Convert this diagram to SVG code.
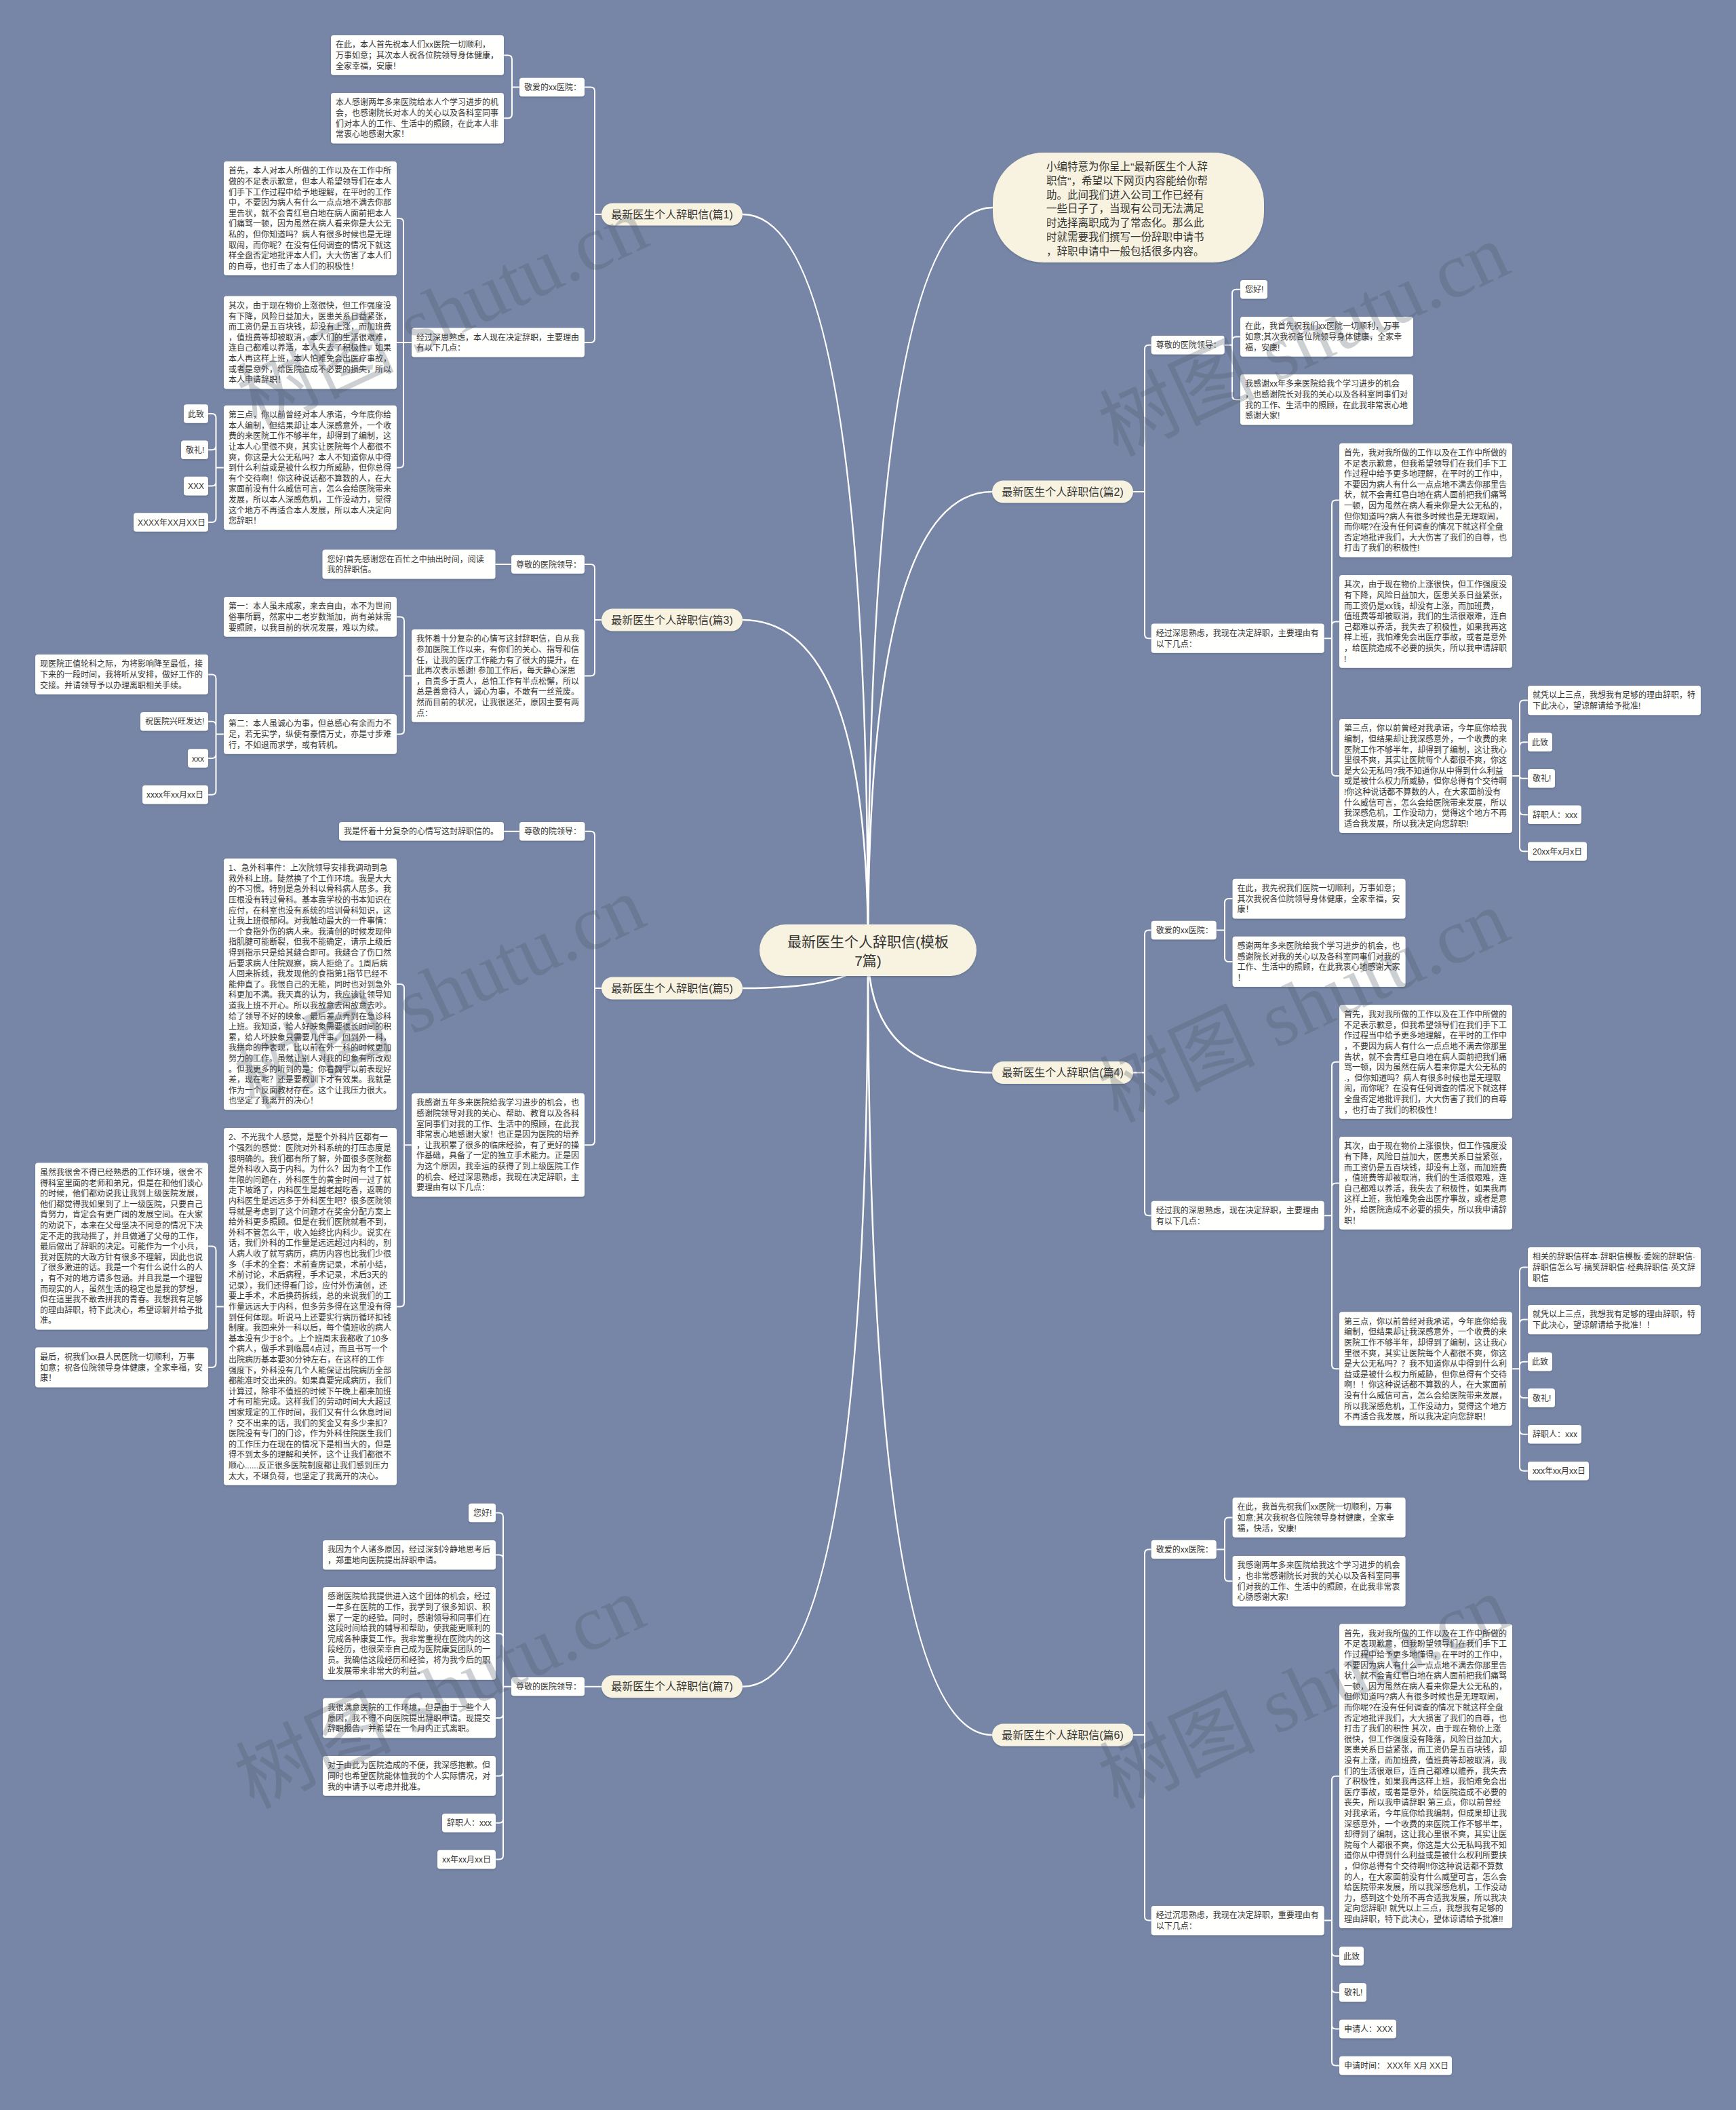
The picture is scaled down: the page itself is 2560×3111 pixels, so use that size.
<svg xmlns="http://www.w3.org/2000/svg" width="2560" height="3111" viewBox="0 0 2560 3111">
<defs>
<filter id="sh" x="-5%" y="-10%" width="110%" height="130%"><feDropShadow dx="0" dy="1.5" stdDeviation="1" flood-color="#3c4660" flood-opacity="0.35"/></filter>
<style>
.n rect{fill:#FFFFFD;rx:4px;ry:4px;filter:url(#sh)}
.n text,.b text,.r text{font-family:"Liberation Sans","Noto Sans CJK SC",sans-serif;fill:#333}
.n text{font-size:12px}
.b rect{fill:#F8F3E0;filter:url(#sh)}
.b text{font-size:16px;text-anchor:middle}
.r rect{fill:#F8F3E0;filter:url(#sh)}
#connectors path{fill:none;stroke:#FFFFFF;stroke-width:2}
#connectors .main{stroke-width:2.5}
#watermarks text{font-family:"Liberation Serif","Noto Sans CJK SC",serif;font-size:115px;fill:#50586a;opacity:0.28;text-anchor:middle}
</style>
</defs>
<rect x="0" y="0" width="2560" height="3111" fill="#7786A6"/>

<g id="connectors">
<path class="main" d="M1280,1401Q1280,306 1464,306"/>
<path class="main" d="M1280,1401Q1280,316 1095,316"/>
<path class="main" d="M1280,1401Q1280,914 1095,914"/>
<path class="main" d="M1280,1401Q1280,1457 1095,1457"/>
<path class="main" d="M1280,1401Q1280,2486.8 1095,2486.8"/>
<path class="main" d="M1280,1401Q1280,725 1463,725"/>
<path class="main" d="M1280,1401Q1280,1581.5 1463,1581.5"/>
<path class="main" d="M1280,1401Q1280,2558 1463,2558"/>
<path d="M887,316H877V134.5Q877,128.5 871,128.5H862M877,316V499Q877,505 871,505H862"/>
<path d="M766,128.5H755V87.4Q755,81.4 749,81.4H743M755,128.5V168.2Q755,174.2 749,174.2H743"/>
<path d="M607,505H595V328Q595,322 589,322H585M595,505H585M595,505V683.5Q595,689.5 589,689.5H585"/>
<path d="M330,689.5H318.5V616Q318.5,610 312.5,610H307M318.5,689.5V657.3Q318.5,663.3 312.5,663.3H307M318.5,689.5V710.6Q318.5,716.6 312.5,716.6H307M318.5,689.5V764Q318.5,770 312.5,770H307"/>
<path d="M887,914H877V838Q877,832 871,832H862M877,914V990.4Q877,996.4 871,996.4H862"/>
<path d="M754,832H730.5"/>
<path d="M607,996.4H596V915.4Q596,909.4 590,909.4H585M596,996.4V1076.4Q596,1082.4 590,1082.4H585"/>
<path d="M330,1082.4H318.5V1000.4Q318.5,994.4 312.5,994.4H307M318.5,1082.4V1069.8Q318.5,1063.8 312.5,1063.8H307M318.5,1082.4V1112Q318.5,1118 312.5,1118H307M318.5,1082.4V1165.8Q318.5,1171.8 312.5,1171.8H307"/>
<path d="M887,1457H877V1231.8Q877,1225.8 871,1225.8H862.5M877,1457V1682.2Q877,1688.2 871,1688.2H862"/>
<path d="M766,1225.8H743"/>
<path d="M607,1688.2H596V1457.1Q596,1451.1 590,1451.1H585M596,1688.2V1920.4Q596,1926.4 590,1926.4H585"/>
<path d="M330,1926.4H318.5V1843.6Q318.5,1837.6 312.5,1837.6H307M318.5,1926.4V2010Q318.5,2016 312.5,2016H307"/>
<path d="M887,2486.8H862"/>
<path d="M754,2486.8H742V2236.5Q742,2230.5 736,2230.5H731M742,2486.8V2298.6Q742,2292.6 736,2292.6H731M742,2486.8V2414.4Q742,2408.4 736,2408.4H731M742,2486.8V2527.1Q742,2533.1 736,2533.1H731M742,2486.8V2612.4Q742,2618.4 736,2618.4H731M742,2486.8V2681.8Q742,2687.8 736,2687.8H731M742,2486.8V2735.6Q742,2741.6 736,2741.6H731"/>
<path d="M1671,725H1688V514.8Q1688,508.8 1694,508.8H1697.7M1688,725V935.2Q1688,941.2 1694,941.2H1697.7"/>
<path d="M1805.7,508.8H1817V432.8Q1817,426.8 1823,426.8H1829M1817,508.8V502.4Q1817,496.4 1823,496.4H1829M1817,508.8V583.2Q1817,589.2 1823,589.2H1829"/>
<path d="M1952.7,941.2H1964V743.5Q1964,737.5 1970,737.5H1975M1964,941.2V922.4Q1964,916.4 1970,916.4H1975M1964,941.2V1138Q1964,1144 1970,1144H1975"/>
<path d="M2230,1144H2241V1038.6Q2241,1032.6 2247,1032.6H2253M2241,1144V1100.3Q2241,1094.3 2247,1094.3H2253M2241,1144Q2241,1147.8 2244.8,1147.8H2253M2241,1144V1195.3Q2241,1201.3 2247,1201.3H2253M2241,1144V1249.3Q2241,1255.3 2247,1255.3H2253"/>
<path d="M1671,1581.5H1688V1377.5Q1688,1371.5 1694,1371.5H1697.7M1688,1581.5V1786.3Q1688,1792.3 1694,1792.3H1697.7"/>
<path d="M1793.7,1371.5H1806V1331.1Q1806,1325.1 1812,1325.1H1817.6M1806,1371.5V1411.9Q1806,1417.9 1812,1417.9H1817.6"/>
<path d="M1952.7,1792.3H1964V1571.7Q1964,1565.7 1970,1565.7H1975M1964,1792.3V1750.4Q1964,1744.4 1970,1744.4H1975M1964,1792.3V2012.3Q1964,2018.3 1970,2018.3H1975"/>
<path d="M2230,2018.3H2241V1874.4Q2241,1868.4 2247,1868.4H2253M2241,2018.3V1951.6Q2241,1945.6 2247,1945.6H2253M2241,2018.3V2013.8Q2241,2007.8 2247,2007.8H2253M2241,2018.3V2055.1Q2241,2061.1 2247,2061.1H2253M2241,2018.3V2108.8Q2241,2114.8 2247,2114.8H2253M2241,2018.3V2162.8Q2241,2168.8 2247,2168.8H2253"/>
<path d="M1671,2558H1688V2290.5Q1688,2284.5 1694,2284.5H1697.7M1688,2558V2825.6Q1688,2831.6 1694,2831.6H1697.7"/>
<path d="M1793.7,2284.5H1806V2243.4Q1806,2237.4 1812,2237.4H1817.6M1806,2284.5V2325.2Q1806,2331.2 1812,2331.2H1817.6"/>
<path d="M1952.7,2831.6H1964V2624.7Q1964,2618.7 1970,2618.7H1975M1964,2831.6V2878.1Q1964,2884.1 1970,2884.1H1975M1964,2831.6V2931.8Q1964,2937.8 1970,2937.8H1975M1964,2831.6V2985.5Q1964,2991.5 1970,2991.5H1975M1964,2831.6V3039.5Q1964,3045.5 1970,3045.5H1975"/>
</g>

<g id="root" class="r"><rect x="1120" y="1363" width="320" height="76" rx="38"/><text x="1280" y="1396.3" font-size="21" text-anchor="middle"><tspan x="1280">最新医生个人辞职信(模板</tspan><tspan x="1280" dy="27.7">7篇)</tspan></text></g>

<g id="intro" class="r"><rect x="1464" y="225" width="400" height="162" rx="75"/><text x="1543" y="250.9" font-size="15.5"><tspan x="1543">小编特意为你呈上"最新医生个人辞</tspan><tspan x="1543" dy="20.8">职信"，希望以下网页内容能给你帮</tspan><tspan x="1543" dy="20.8">助。此间我们进入公司工作已经有</tspan><tspan x="1543" dy="20.8">一些日子了，当现有公司无法满足</tspan><tspan x="1543" dy="20.8">时选择离职成为了常态化。那么此</tspan><tspan x="1543" dy="20.8">时就需要我们撰写一份辞职申请书</tspan><tspan x="1543" dy="20.8">，辞职申请中一般包括很多内容。</tspan></text></g>

<g id="b1" class="b"><rect x="887" y="299.5" width="208" height="33" rx="16.5"/><text x="991" y="321.6">最新医生个人辞职信(篇1)</text></g>
<g id="b3" class="b"><rect x="887" y="897.5" width="208" height="33" rx="16.5"/><text x="991" y="919.6">最新医生个人辞职信(篇3)</text></g>
<g id="b5" class="b"><rect x="887" y="1440.5" width="208" height="33" rx="16.5"/><text x="991" y="1462.6">最新医生个人辞职信(篇5)</text></g>
<g id="b7" class="b"><rect x="887" y="2470.3" width="208" height="33" rx="16.5"/><text x="991" y="2492.4">最新医生个人辞职信(篇7)</text></g>
<g id="b2" class="b"><rect x="1463" y="708.5" width="208" height="33" rx="16.5"/><text x="1567" y="730.6">最新医生个人辞职信(篇2)</text></g>
<g id="b4" class="b"><rect x="1463" y="1565" width="208" height="33" rx="16.5"/><text x="1567" y="1587.1">最新医生个人辞职信(篇4)</text></g>
<g id="b6" class="b"><rect x="1463" y="2541.5" width="208" height="33" rx="16.5"/><text x="1567" y="2563.6">最新医生个人辞职信(篇6)</text></g>

<g id="n1lbl" class="n"><rect x="766" y="114.7" width="96" height="27.6"/><text x="773" y="133.1">敬爱的xx医院：</text></g>
<g id="n1a" class="n"><rect x="488" y="52" width="255" height="58.8"/><text x="495" y="70.4"><tspan x="495">在此，本人首先祝本人们xx医院一切顺利，</tspan><tspan x="495" dy="15.6">万事如意；其次本人祝各位院领导身体健康，</tspan><tspan x="495" dy="15.6">全家幸福，安康！</tspan></text></g>
<g id="n1b" class="n"><rect x="488" y="137" width="255" height="74.4"/><text x="495" y="155.4"><tspan x="495">本人感谢两年多来医院给本人个学习进步的机</tspan><tspan x="495" dy="15.6">会，也感谢院长对本人的关心以及各科室同事</tspan><tspan x="495" dy="15.6">们对本人的工作、生活中的照顾，在此本人非</tspan><tspan x="495" dy="15.6">常衷心地感谢大家！</tspan></text></g>
<g id="n1why" class="n"><rect x="607" y="483.4" width="255" height="43.2"/><text x="614" y="501.8"><tspan x="614">经过深思熟虑，本人现在决定辞职，主要理由</tspan><tspan x="614" dy="15.6">有以下几点：</tspan></text></g>
<g id="n1c1" class="n"><rect x="330" y="238" width="255" height="168"/><text x="337" y="256.4"><tspan x="337">首先，本人对本人所做的工作以及在工作中所</tspan><tspan x="337" dy="15.6">做的不足表示歉意，但本人希望领导们在本人</tspan><tspan x="337" dy="15.6">们手下工作过程中给予地理解，在平时的工作</tspan><tspan x="337" dy="15.6">中，不要因为病人有什么一点点地不满去你那</tspan><tspan x="337" dy="15.6">里告状，就不会青红皂白地在病人面前把本人</tspan><tspan x="337" dy="15.6">们痛骂一顿，因为虽然在病人看来你是大公无</tspan><tspan x="337" dy="15.6">私的，但你知道吗？病人有很多时候也是无理</tspan><tspan x="337" dy="15.6">取闹，而你呢？在没有任何调查的情况下就这</tspan><tspan x="337" dy="15.6">样全盘否定地批评本人们，大大伤害了本人们</tspan><tspan x="337" dy="15.6">的自尊，也打击了本人们的积极性！</tspan></text></g>
<g id="n1c2" class="n"><rect x="330" y="436.6" width="255" height="136.8"/><text x="337" y="455"><tspan x="337">其次，由于现在物价上涨很快，但工作强度没</tspan><tspan x="337" dy="15.6">有下降，风险日益加大，医患关系日益紧张，</tspan><tspan x="337" dy="15.6">而工资仍是五百块钱，却没有上涨，而加班费</tspan><tspan x="337" dy="15.6">，值班费等却被取消，本人们的生活很艰难，</tspan><tspan x="337" dy="15.6">连自己都难以养活，本人失去了积极性，如果</tspan><tspan x="337" dy="15.6">本人再这样上班，本人怕难免会出医疗事故，</tspan><tspan x="337" dy="15.6">或者是意外，给医院造成不必要的损失，所以</tspan><tspan x="337" dy="15.6">本人申请辞职！</tspan></text></g>
<g id="n1c3" class="n"><rect x="330" y="597.7" width="255" height="183.6"/><text x="337" y="616.1"><tspan x="337">第三点，你以前曾经对本人承诺，今年底你给</tspan><tspan x="337" dy="15.6">本人编制，但结果却让本人深感意外，一个收</tspan><tspan x="337" dy="15.6">费的来医院工作不够半年，却得到了编制，这</tspan><tspan x="337" dy="15.6">让本人心里很不爽，其实让医院每个人都很不</tspan><tspan x="337" dy="15.6">爽，你这是大公无私吗？本人不知道你从中得</tspan><tspan x="337" dy="15.6">到什么利益或是被什么权力所威胁，但你总得</tspan><tspan x="337" dy="15.6">有个交待啊！你这种说话都不算数的人，在大</tspan><tspan x="337" dy="15.6">家面前没有什么威信可言，怎么会给医院带来</tspan><tspan x="337" dy="15.6">发展，所以本人深感危机，工作没动力，觉得</tspan><tspan x="337" dy="15.6">这个地方不再适合本人发展，所以本人决定向</tspan><tspan x="337" dy="15.6">您辞职！</tspan></text></g>
<g id="n1d1" class="n"><rect x="271" y="596.2" width="36" height="27.6"/><text x="277" y="614.6">此致</text></g>
<g id="n1d2" class="n"><rect x="267" y="649.5" width="40" height="27.6"/><text x="274" y="667.9">敬礼!</text></g>
<g id="n1d3" class="n"><rect x="271" y="702.8" width="36" height="27.6"/><text x="277" y="721.2">XXX</text></g>
<g id="n1d4" class="n"><rect x="197" y="756.2" width="110" height="27.6"/><text x="203" y="774.6">XXXX年XX月XX日</text></g>

<g id="n3lbl" class="n"><rect x="754" y="818.2" width="108" height="27.6"/><text x="761" y="836.6">尊敬的医院领导：</text></g>
<g id="n3a" class="n"><rect x="475.5" y="810.4" width="255" height="43.2"/><text x="482.5" y="828.8"><tspan x="482.5">您好!首先感谢您在百忙之中抽出时间，阅读</tspan><tspan x="482.5" dy="15.6">我的辞职信。</tspan></text></g>
<g id="n3why" class="n"><rect x="607" y="928" width="255" height="136.8"/><text x="614" y="946.4"><tspan x="614">我怀着十分复杂的心情写这封辞职信，自从我</tspan><tspan x="614" dy="15.6">参加医院工作以来，有你们的关心、指导和信</tspan><tspan x="614" dy="15.6">任，让我的医疗工作能力有了很大的提升，在</tspan><tspan x="614" dy="15.6">此再次表示感谢! 参加工作后，每天静心深思</tspan><tspan x="614" dy="15.6">，自责多于责人，总怕工作有半点松懈，所以</tspan><tspan x="614" dy="15.6">总是善意待人，诚心为事，不敢有一丝荒废。</tspan><tspan x="614" dy="15.6">然而目前的状况，让我很迷茫，原因主要有两</tspan><tspan x="614" dy="15.6">点：</tspan></text></g>
<g id="n3c1" class="n"><rect x="330" y="880" width="255" height="58.8"/><text x="337" y="898.4"><tspan x="337">第一：本人虽未成家，来去自由，本不为世间</tspan><tspan x="337" dy="15.6">俗事所羁，然家中二老岁数渐加，尚有弟妹需</tspan><tspan x="337" dy="15.6">要照顾，以我目前的状况发展，难以为续。</tspan></text></g>
<g id="n3c2" class="n"><rect x="330" y="1053" width="255" height="58.8"/><text x="337" y="1071.4"><tspan x="337">第二：本人虽诚心为事，但总感心有余而力不</tspan><tspan x="337" dy="15.6">足，若无实学，纵使有豪情万丈，亦是寸步难</tspan><tspan x="337" dy="15.6">行，不如退而求学，或有转机。</tspan></text></g>
<g id="n3d1" class="n"><rect x="52" y="965" width="255" height="58.8"/><text x="59" y="983.4"><tspan x="59">现医院正值轮科之际，为将影响降至最低，接</tspan><tspan x="59" dy="15.6">下来的一段时间，我将听从安排，做好工作的</tspan><tspan x="59" dy="15.6">交接。并请领导予以办理离职相关手续。</tspan></text></g>
<g id="n3d2" class="n"><rect x="207" y="1050" width="100" height="27.6"/><text x="214" y="1068.4">祝医院兴旺发达!</text></g>
<g id="n3d3" class="n"><rect x="277" y="1104.2" width="30" height="27.6"/><text x="283" y="1122.6">xxx</text></g>
<g id="n3d4" class="n"><rect x="210" y="1158" width="97" height="27.6"/><text x="216" y="1176.4">xxxx年xx月xx日</text></g>

<g id="n5lbl" class="n"><rect x="766" y="1212" width="96.5" height="27.6"/><text x="773" y="1230.4">尊敬的院领导：</text></g>
<g id="n5a" class="n"><rect x="500" y="1212" width="243" height="27.6"/><text x="507" y="1230.4">我是怀着十分复杂的心情写这封辞职信的。</text></g>
<g id="n5why" class="n"><rect x="607" y="1612" width="255" height="152.4"/><text x="614" y="1630.4"><tspan x="614">我感谢五年多来医院给我学习进步的机会，也</tspan><tspan x="614" dy="15.6">感谢院领导对我的关心、帮助、教育以及各科</tspan><tspan x="614" dy="15.6">室同事们对我的工作、生活中的照顾，在此我</tspan><tspan x="614" dy="15.6">非常衷心地感谢大家！也正是因为医院的培养</tspan><tspan x="614" dy="15.6">，让我积累了很多的临床经验，有了更好的操</tspan><tspan x="614" dy="15.6">作基础，具备了一定的独立手术能力。正是因</tspan><tspan x="614" dy="15.6">为这个原因，我幸运的获得了到上级医院工作</tspan><tspan x="614" dy="15.6">的机会、经过深思熟虑，我现在决定辞职，主</tspan><tspan x="614" dy="15.6">要理由有以下几点：</tspan></text></g>
<g id="n5c1" class="n"><rect x="330" y="1265.7" width="255" height="370.8"/><text x="337" y="1284.1"><tspan x="337">1、急外科事件：上次院领导安排我调动到急</tspan><tspan x="337" dy="15.6">救外科上班。陡然换了个工作环境。我是大大</tspan><tspan x="337" dy="15.6">的不习惯。特别是急外科以骨科病人居多。我</tspan><tspan x="337" dy="15.6">压根没有转过骨科。基本靠学校的书本知识在</tspan><tspan x="337" dy="15.6">应付，在科室也没有系统的培训骨科知识，这</tspan><tspan x="337" dy="15.6">让我上班很郁闷。对我触动最大的一件事情：</tspan><tspan x="337" dy="15.6">一个食指外伤的病人来。我清创的时候发现伸</tspan><tspan x="337" dy="15.6">指肌腱可能断裂，但我不能确定，请示上级后</tspan><tspan x="337" dy="15.6">得到指示只是给其缝合即可。我缝合了伤口然</tspan><tspan x="337" dy="15.6">后要求病人住院观察，病人拒绝了。1周后病</tspan><tspan x="337" dy="15.6">人回来拆线，我发现他的食指第1指节已经不</tspan><tspan x="337" dy="15.6">能伸直了。我恨自己的无能，同时也对到急外</tspan><tspan x="337" dy="15.6">科更加不满。我天真的认为，我应该让领导知</tspan><tspan x="337" dy="15.6">道我上班不开心。所以我故意去闹故意去吵。</tspan><tspan x="337" dy="15.6">给了领导不好的映象、最后差点弄到在急诊科</tspan><tspan x="337" dy="15.6">上班。我知道，给人好映象需要很长时间的积</tspan><tspan x="337" dy="15.6">累，给人坏映象只需要几件事。回到外一科，</tspan><tspan x="337" dy="15.6">我拼命的挣表现，比以前在外一科的时候更加</tspan><tspan x="337" dy="15.6">努力的工作。虽然让别人对我的印象有所改观</tspan><tspan x="337" dy="15.6">。但我更多的听到的是：你看魏宇以前表现好</tspan><tspan x="337" dy="15.6">差，现在呢？还是要教训下才有效果。我就是</tspan><tspan x="337" dy="15.6">作为一个反面教材存在。这个让我压力很大。</tspan><tspan x="337" dy="15.6">也坚定了我离开的决心！</tspan></text></g>
<g id="n5c2" class="n"><rect x="330" y="1663" width="255" height="526.8"/><text x="337" y="1681.4"><tspan x="337">2、不光我个人感觉，是整个外科片区都有一</tspan><tspan x="337" dy="15.6">个强烈的感觉：医院对外科系统的打压态度是</tspan><tspan x="337" dy="15.6">很明确的。我们都有所了解，外面很多医院都</tspan><tspan x="337" dy="15.6">是外科收入高于内科。为什么？因为有个工作</tspan><tspan x="337" dy="15.6">年限的问题在，外科医生的黄金时间一过了就</tspan><tspan x="337" dy="15.6">走下坡路了，内科医生是越老越吃香，返聘的</tspan><tspan x="337" dy="15.6">内科医生是远远多于外科医生吧？很多医院领</tspan><tspan x="337" dy="15.6">导就是考虑到了这个问题才在奖金分配方案上</tspan><tspan x="337" dy="15.6">给外科更多照顾。但是在我们医院就看不到，</tspan><tspan x="337" dy="15.6">外科不管怎么干，收入始终比内科少。说实在</tspan><tspan x="337" dy="15.6">话，我们外科的工作量是远远超过内科的，别</tspan><tspan x="337" dy="15.6">人病人收了就写病历，病历内容也比我们少很</tspan><tspan x="337" dy="15.6">多（手术的全套：术前查房记录，术前小结，</tspan><tspan x="337" dy="15.6">术前讨论，术后病程，手术记录，术后3天的</tspan><tspan x="337" dy="15.6">记录），我们还得看门诊，应付外伤清创，还</tspan><tspan x="337" dy="15.6">要上手术，术后换药拆线，总的来说我们的工</tspan><tspan x="337" dy="15.6">作量远远大于内科，但多劳多得在这里没有得</tspan><tspan x="337" dy="15.6">到任何体现。听说马上还要实行病历循环扣钱</tspan><tspan x="337" dy="15.6">制度。我回来外一科以后，每个值班收的病人</tspan><tspan x="337" dy="15.6">基本没有少于8个。上个班周末我都收了10多</tspan><tspan x="337" dy="15.6">个病人，做手术到临晨4点过，而且书写一个</tspan><tspan x="337" dy="15.6">出院病历基本要30分钟左右，在这样的工作</tspan><tspan x="337" dy="15.6">强度下，外科没有几个人能保证出院病历全部</tspan><tspan x="337" dy="15.6">都能准时交出来的。如果真要完成病历，我们</tspan><tspan x="337" dy="15.6">计算过，除非不值班的时候下午晚上都来加班</tspan><tspan x="337" dy="15.6">才有可能完成。这样我们的劳动时间大大超过</tspan><tspan x="337" dy="15.6">国家规定的工作时间，我们又有什么休息时间</tspan><tspan x="337" dy="15.6">？交不出来的话，我们的奖金又有多少来扣？</tspan><tspan x="337" dy="15.6">医院没有专门的门诊，作为外科住院医生我们</tspan><tspan x="337" dy="15.6">的工作压力在现在的情况下是相当大的，但是</tspan><tspan x="337" dy="15.6">得不到太多的理解和关怀，这个让我们都很不</tspan><tspan x="337" dy="15.6">顺心......反正很多医院制度都让我们感到压力</tspan><tspan x="337" dy="15.6">太大，不堪负荷，也坚定了我离开的决心。</tspan></text></g>
<g id="n5d1" class="n"><rect x="52" y="1714.6" width="255" height="246"/><text x="59" y="1733"><tspan x="59">虽然我很舍不得已经熟悉的工作环境，很舍不</tspan><tspan x="59" dy="15.6">得科室里面的老师和弟兄，但是在和他们谈心</tspan><tspan x="59" dy="15.6">的时候，他们都劝说我让我到上级医院发展，</tspan><tspan x="59" dy="15.6">他们都觉得我如果到了上一级医院，只要自己</tspan><tspan x="59" dy="15.6">肯努力，肯定会有更广阔的发展空间。在大家</tspan><tspan x="59" dy="15.6">的劝说下，本来在父母坚决不同意的情况下决</tspan><tspan x="59" dy="15.6">定不走的我动摇了，并且做通了父母的工作，</tspan><tspan x="59" dy="15.6">最后做出了辞职的决定。可能作为一个小兵，</tspan><tspan x="59" dy="15.6">我对医院的大政方针有很多不理解，因此也说</tspan><tspan x="59" dy="15.6">了很多激进的话。我是一个有什么说什么的人</tspan><tspan x="59" dy="15.6">，有不对的地方请多包涵。并且我是一个理智</tspan><tspan x="59" dy="15.6">而现实的人，虽然生活的稳定也是我的梦想，</tspan><tspan x="59" dy="15.6">但在這里我不敢去拼我的青春。我想我有足够</tspan><tspan x="59" dy="15.6">的理由辞职，特下此决心，希望谅解并给予批</tspan><tspan x="59" dy="15.6">准。</tspan></text></g>
<g id="n5d2" class="n"><rect x="52" y="1986.6" width="255" height="58.8"/><text x="59" y="2005"><tspan x="59">最后，祝我们xx县人民医院一切顺利，万事</tspan><tspan x="59" dy="15.6">如意；祝各位院领导身体健康，全家幸福，安</tspan><tspan x="59" dy="15.6">康！</tspan></text></g>

<g id="n7lbl" class="n"><rect x="754" y="2473" width="108" height="27.6"/><text x="761" y="2491.4">尊敬的医院领导：</text></g>
<g id="n7c1" class="n"><rect x="691" y="2216.7" width="40" height="27.6"/><text x="698" y="2235.1">您好!</text></g>
<g id="n7c2" class="n"><rect x="476" y="2271" width="255" height="43.2"/><text x="483" y="2289.4"><tspan x="483">我因为个人诸多原因，经过深刻冷静地思考后</tspan><tspan x="483" dy="15.6">，郑重地向医院提出辞职申请。</tspan></text></g>
<g id="n7c3" class="n"><rect x="476" y="2340" width="255" height="136.8"/><text x="483" y="2358.4"><tspan x="483">感谢医院给我提供进入这个团体的机会，经过</tspan><tspan x="483" dy="15.6">一年多在医院的工作，我学到了很多知识、积</tspan><tspan x="483" dy="15.6">累了一定的经验。同时，感谢领导和同事们在</tspan><tspan x="483" dy="15.6">这段时间给我的辅导和帮助，使我能更顺利的</tspan><tspan x="483" dy="15.6">完成各种康复工作。我非常重视在医院内的这</tspan><tspan x="483" dy="15.6">段经历，也很荣幸自己成为医院康复团队的一</tspan><tspan x="483" dy="15.6">员。我确信这段经历和经验，将为我今后的职</tspan><tspan x="483" dy="15.6">业发展带来非常大的利益。</tspan></text></g>
<g id="n7c4" class="n"><rect x="476" y="2503.7" width="255" height="58.8"/><text x="483" y="2522.1"><tspan x="483">我很满意医院的工作环境，但是由于一些个人</tspan><tspan x="483" dy="15.6">原因，我不得不向医院提出辞职申请。现提交</tspan><tspan x="483" dy="15.6">辞职报告，并希望在一个月内正式离职。</tspan></text></g>
<g id="n7c5" class="n"><rect x="476" y="2589" width="255" height="58.8"/><text x="483" y="2607.4"><tspan x="483">对于由此为医院造成的不便，我深感抱歉。但</tspan><tspan x="483" dy="15.6">同时也希望医院能体恤我的个人实际情况，对</tspan><tspan x="483" dy="15.6">我的申请予以考虑并批准。</tspan></text></g>
<g id="n7c6" class="n"><rect x="652" y="2674" width="79" height="27.6"/><text x="659" y="2692.4">辞职人：xxx</text></g>
<g id="n7c7" class="n"><rect x="645" y="2727.8" width="86" height="27.6"/><text x="652" y="2746.2">xx年xx月xx日</text></g>

<g id="n2lbl" class="n"><rect x="1697.7" y="495" width="108" height="27.6"/><text x="1704.7" y="513.4">尊敬的医院领导：</text></g>
<g id="n2a" class="n"><rect x="1829" y="413" width="40" height="27.6"/><text x="1836" y="431.4">您好!</text></g>
<g id="n2b" class="n"><rect x="1829" y="467" width="255" height="58.8"/><text x="1836" y="485.4"><tspan x="1836">在此，我首先祝我们xx医院一切顺利，万事</tspan><tspan x="1836" dy="15.6">如意;其次我祝各位院领导身体健康，全家幸</tspan><tspan x="1836" dy="15.6">福，安康!</tspan></text></g>
<g id="n2c" class="n"><rect x="1829" y="552" width="255" height="74.4"/><text x="1836" y="570.4"><tspan x="1836">我感谢xx年多来医院给我个学习进步的机会</tspan><tspan x="1836" dy="15.6">，也感谢院长对我的关心以及各科室同事们对</tspan><tspan x="1836" dy="15.6">我的工作、生活中的照顾，在此我非常衷心地</tspan><tspan x="1836" dy="15.6">感谢大家!</tspan></text></g>
<g id="n2why" class="n"><rect x="1697.7" y="919.6" width="255" height="43.2"/><text x="1704.7" y="938"><tspan x="1704.7">经过深思熟虑，我现在决定辞职，主要理由有</tspan><tspan x="1704.7" dy="15.6">以下几点：</tspan></text></g>
<g id="n2c1" class="n"><rect x="1975" y="653.5" width="255" height="168"/><text x="1982" y="671.9"><tspan x="1982">首先，我对我所做的工作以及在工作中所做的</tspan><tspan x="1982" dy="15.6">不足表示歉意，但我希望领导们在我们手下工</tspan><tspan x="1982" dy="15.6">作过程中给予更多地理解，在平时的工作中，</tspan><tspan x="1982" dy="15.6">不要因为病人有什么一点点地不满去你那里告</tspan><tspan x="1982" dy="15.6">状，就不会青红皂白地在病人面前把我们痛骂</tspan><tspan x="1982" dy="15.6">一顿，因为虽然在病人看来你是大公无私的，</tspan><tspan x="1982" dy="15.6">但你知道吗?病人有很多时候也是无理取闹，</tspan><tspan x="1982" dy="15.6">而你呢?在没有任何调查的情况下就这样全盘</tspan><tspan x="1982" dy="15.6">否定地批评我们，大大伤害了我们的自尊，也</tspan><tspan x="1982" dy="15.6">打击了我们的积极性!</tspan></text></g>
<g id="n2c2" class="n"><rect x="1975" y="848" width="255" height="136.8"/><text x="1982" y="866.4"><tspan x="1982">其次，由于现在物价上涨很快，但工作强度没</tspan><tspan x="1982" dy="15.6">有下降，风险日益加大，医患关系日益紧张，</tspan><tspan x="1982" dy="15.6">而工资仍是xx钱，却没有上涨，而加班费，</tspan><tspan x="1982" dy="15.6">值班费等却被取消，我们的生活很艰难，连自</tspan><tspan x="1982" dy="15.6">己都难以养活，我失去了积极性，如果我再这</tspan><tspan x="1982" dy="15.6">样上班，我怕难免会出医疗事故，或者是意外</tspan><tspan x="1982" dy="15.6">，给医院造成不必要的损失，所以我申请辞职</tspan><tspan x="1982" dy="15.6">!</tspan></text></g>
<g id="n2c3" class="n"><rect x="1975" y="1060" width="255" height="168"/><text x="1982" y="1078.4"><tspan x="1982">第三点，你以前曾经对我承诺，今年底你给我</tspan><tspan x="1982" dy="15.6">编制，但结果却让我深感意外，一个收费的来</tspan><tspan x="1982" dy="15.6">医院工作不够半年，却得到了编制，这让我心</tspan><tspan x="1982" dy="15.6">里很不爽，其实让医院每个人都很不爽，你这</tspan><tspan x="1982" dy="15.6">是大公无私吗?我不知道你从中得到什么利益</tspan><tspan x="1982" dy="15.6">或是被什么权力所威胁，但你总得有个交待啊</tspan><tspan x="1982" dy="15.6">!你这种说话都不算数的人，在大家面前没有</tspan><tspan x="1982" dy="15.6">什么威信可言，怎么会给医院带来发展，所以</tspan><tspan x="1982" dy="15.6">我深感危机，工作没动力，觉得这个地方不再</tspan><tspan x="1982" dy="15.6">适合我发展，所以我决定向您辞职!</tspan></text></g>
<g id="n2d1" class="n"><rect x="2253" y="1011" width="255" height="43.2"/><text x="2260" y="1029.4"><tspan x="2260">就凭以上三点，我想我有足够的理由辞职，特</tspan><tspan x="2260" dy="15.6">下此决心，望谅解请给予批准!</tspan></text></g>
<g id="n2d2" class="n"><rect x="2253" y="1080.5" width="36" height="27.6"/><text x="2259" y="1098.9">此致</text></g>
<g id="n2d3" class="n"><rect x="2253" y="1134" width="40" height="27.6"/><text x="2260" y="1152.4">敬礼!</text></g>
<g id="n2d4" class="n"><rect x="2253" y="1187.5" width="79" height="27.6"/><text x="2260" y="1205.9">辞职人：xxx</text></g>
<g id="n2d5" class="n"><rect x="2253" y="1241.5" width="87" height="27.6"/><text x="2260" y="1259.9">20xx年x月x日</text></g>

<g id="n4lbl" class="n"><rect x="1697.7" y="1357.7" width="96" height="27.6"/><text x="1704.7" y="1376.1">敬爱的xx医院：</text></g>
<g id="n4a" class="n"><rect x="1817.6" y="1295.7" width="255" height="58.8"/><text x="1824.6" y="1314.1"><tspan x="1824.6">在此，我先祝我们医院一切顺利，万事如意；</tspan><tspan x="1824.6" dy="15.6">其次我祝各位院领导身体健康，全家幸福，安</tspan><tspan x="1824.6" dy="15.6">康！</tspan></text></g>
<g id="n4b" class="n"><rect x="1817.6" y="1380.7" width="255" height="74.4"/><text x="1824.6" y="1399.1"><tspan x="1824.6">感谢两年多来医院给我个学习进步的机会，也</tspan><tspan x="1824.6" dy="15.6">感谢院长对我的关心以及各科室同事们对我的</tspan><tspan x="1824.6" dy="15.6">工作、生活中的照顾，在此我衷心地感谢大家</tspan><tspan x="1824.6" dy="15.6">！</tspan></text></g>
<g id="n4why" class="n"><rect x="1697.7" y="1770.7" width="255" height="43.2"/><text x="1704.7" y="1789.1"><tspan x="1704.7">经过我的深思熟虑，现在决定辞职，主要理由</tspan><tspan x="1704.7" dy="15.6">有以下几点：</tspan></text></g>
<g id="n4c1" class="n"><rect x="1975" y="1481.7" width="255" height="168"/><text x="1982" y="1500.1"><tspan x="1982">首先，我对我所做的工作以及在工作中所做的</tspan><tspan x="1982" dy="15.6">不足表示歉意，但我希望领导们在我们手下工</tspan><tspan x="1982" dy="15.6">作过程当中给予更多地理解，在平时的工作中</tspan><tspan x="1982" dy="15.6">，不要因为病人有什么一点点地不满去你那里</tspan><tspan x="1982" dy="15.6">告状，就不会青红皂白地在病人面前把我们痛</tspan><tspan x="1982" dy="15.6">骂一顿，因为虽然在病人看来你是大公无私的</tspan><tspan x="1982" dy="15.6">.，但你知道吗？病人有很多时候也是无理取</tspan><tspan x="1982" dy="15.6">闹，而你呢？在没有任何调查的情况下就这样</tspan><tspan x="1982" dy="15.6">全盘否定地批评我们，大大伤害了我们的自尊</tspan><tspan x="1982" dy="15.6">，也打击了我们的积极性！</tspan></text></g>
<g id="n4c2" class="n"><rect x="1975" y="1676" width="255" height="136.8"/><text x="1982" y="1694.4"><tspan x="1982">其次，由于现在物价上涨很快，但工作强度没</tspan><tspan x="1982" dy="15.6">有下降，风险日益加大，医患关系日益紧张，</tspan><tspan x="1982" dy="15.6">而工资仍是五百块钱，却没有上涨，而加班费</tspan><tspan x="1982" dy="15.6">，值班费等却被取消，我们的生活很艰难，连</tspan><tspan x="1982" dy="15.6">自己都难以养活，我失去了积极性，如果我再</tspan><tspan x="1982" dy="15.6">这样上班，我怕难免会出医疗事故，或者是意</tspan><tspan x="1982" dy="15.6">外，给医院造成不必要的损失，所以我申请辞</tspan><tspan x="1982" dy="15.6">职！</tspan></text></g>
<g id="n4c3" class="n"><rect x="1975" y="1934.3" width="255" height="168"/><text x="1982" y="1952.7"><tspan x="1982">第三点，你以前曾经对我承诺，今年底你给我</tspan><tspan x="1982" dy="15.6">编制，但结果却让我深感意外，一个收费的来</tspan><tspan x="1982" dy="15.6">医院工作不够半年，却得到了编制，这让我心</tspan><tspan x="1982" dy="15.6">里很不爽，其实让医院每个人都很不爽，你这</tspan><tspan x="1982" dy="15.6">是大公无私吗？？我不知道你从中得到什么利</tspan><tspan x="1982" dy="15.6">益或是被什么权力所威胁，但你总得有个交待</tspan><tspan x="1982" dy="15.6">啊！！你这种说话都不算数的人，在大家面前</tspan><tspan x="1982" dy="15.6">没有什么威信可言，怎么会给医院带来发展，</tspan><tspan x="1982" dy="15.6">所以我深感危机，工作没动力，觉得这个地方</tspan><tspan x="1982" dy="15.6">不再适合我发展，所以我决定向您辞职！</tspan></text></g>
<g id="n4d1" class="n"><rect x="2253" y="1839" width="255" height="58.8"/><text x="2260" y="1857.4"><tspan x="2260">相关的辞职信样本·辞职信模板·委婉的辞职信·</tspan><tspan x="2260" dy="15.6">辞职信怎么写·搞笑辞职信·经典辞职信·英文辞</tspan><tspan x="2260" dy="15.6">职信</tspan></text></g>
<g id="n4d2" class="n"><rect x="2253" y="1924" width="255" height="43.2"/><text x="2260" y="1942.4"><tspan x="2260">就凭以上三点，我想我有足够的理由辞职，特</tspan><tspan x="2260" dy="15.6">下此决心，望谅解请给予批准！！</tspan></text></g>
<g id="n4d3" class="n"><rect x="2253" y="1994" width="36" height="27.6"/><text x="2259" y="2012.4">此致</text></g>
<g id="n4d4" class="n"><rect x="2253" y="2047.3" width="40" height="27.6"/><text x="2260" y="2065.7">敬礼!</text></g>
<g id="n4d5" class="n"><rect x="2253" y="2101" width="79" height="27.6"/><text x="2260" y="2119.4">辞职人：xxx</text></g>
<g id="n4d6" class="n"><rect x="2253" y="2155" width="90" height="27.6"/><text x="2260" y="2173.4">xxx年xx月xx日</text></g>

<g id="n6lbl" class="n"><rect x="1697.7" y="2270.7" width="96" height="27.6"/><text x="1704.7" y="2289.1">敬爱的xx医院：</text></g>
<g id="n6a" class="n"><rect x="1817.6" y="2208" width="255" height="58.8"/><text x="1824.6" y="2226.4"><tspan x="1824.6">在此，我首先祝我们xx医院一切顺利，万事</tspan><tspan x="1824.6" dy="15.6">如意;其次我祝各位院领导身材健康，全家幸</tspan><tspan x="1824.6" dy="15.6">福，快活，安康!</tspan></text></g>
<g id="n6b" class="n"><rect x="1817.6" y="2294" width="255" height="74.4"/><text x="1824.6" y="2312.4"><tspan x="1824.6">我感谢两年多来医院给我这个学习进步的机会</tspan><tspan x="1824.6" dy="15.6">，也非常感谢院长对我的关心以及各科室同事</tspan><tspan x="1824.6" dy="15.6">们对我的工作、生活中的照顾，在此我非常衷</tspan><tspan x="1824.6" dy="15.6">心肠感谢大家!</tspan></text></g>
<g id="n6why" class="n"><rect x="1697.7" y="2810" width="255" height="43.2"/><text x="1704.7" y="2828.4"><tspan x="1704.7">经过沉思熟虑，我现在决定辞职，重要理由有</tspan><tspan x="1704.7" dy="15.6">以下几点：</tspan></text></g>
<g id="n6c1" class="n"><rect x="1975" y="2394.3" width="255" height="448.8"/><text x="1982" y="2412.7"><tspan x="1982">首先，我对我所做的工作以及在工作中所做的</tspan><tspan x="1982" dy="15.6">不足表现歉意，但我盼望领导们在我们手下工</tspan><tspan x="1982" dy="15.6">作过程中给予更多地懂得，在平时的工作中，</tspan><tspan x="1982" dy="15.6">不要因为病人有什么一点点地不满去你那里告</tspan><tspan x="1982" dy="15.6">状，就不会青红皂白地在病人面前把我们痛骂</tspan><tspan x="1982" dy="15.6">一顿，因为虽然在病人看来你是大公无私的，</tspan><tspan x="1982" dy="15.6">但你知道吗?病人有很多时候也是无理取闹，</tspan><tspan x="1982" dy="15.6">而你呢?在没有任何调查的情况下就这样全盘</tspan><tspan x="1982" dy="15.6">否定地批评我们，大大损害了我们的自尊，也</tspan><tspan x="1982" dy="15.6">打击了我们的积性 其次，由于现在物价上涨</tspan><tspan x="1982" dy="15.6">很快，但工作强度没有降落，风险日益加大，</tspan><tspan x="1982" dy="15.6">医患关系日益紧张，而工资仍是五百块钱，却</tspan><tspan x="1982" dy="15.6">没有上涨，而加班费，值班费等却被取消，我</tspan><tspan x="1982" dy="15.6">们的生活很艰巨，连自己都难以赡养，我失去</tspan><tspan x="1982" dy="15.6">了积极性，如果我再这样上班，我怕难免会出</tspan><tspan x="1982" dy="15.6">医疗事故，或者是意外，给医院造成不必要的</tspan><tspan x="1982" dy="15.6">丧失，所以我申请辞职 第三点，你以前曾经</tspan><tspan x="1982" dy="15.6">对我承诺，今年底你给我编制，但成果却让我</tspan><tspan x="1982" dy="15.6">深感意外，一个收费的来医院工作不够半年，</tspan><tspan x="1982" dy="15.6">却得到了编制，这让我心里很不爽，其实让医</tspan><tspan x="1982" dy="15.6">院每个人都很不爽，你这是大公无私吗我不知</tspan><tspan x="1982" dy="15.6">道你从中得到什么利益或是被什么权利所要挟</tspan><tspan x="1982" dy="15.6">，但你总得有个交待啊!!你这种说话都不算数</tspan><tspan x="1982" dy="15.6">的人，在大家面前没有什么威望可言，怎么会</tspan><tspan x="1982" dy="15.6">给医院带来发展，所以我深感危机，工作没动</tspan><tspan x="1982" dy="15.6">力，感到这个处所不再合适我发展，所以我决</tspan><tspan x="1982" dy="15.6">定向您辞职! 就凭以上三点，我想我有足够的</tspan><tspan x="1982" dy="15.6">理由辞职，特下此决心，望体谅请给予批准!!</tspan></text></g>
<g id="n6d1" class="n"><rect x="1975" y="2870.3" width="36" height="27.6"/><text x="1981" y="2888.7">此致</text></g>
<g id="n6d2" class="n"><rect x="1975" y="2924" width="40" height="27.6"/><text x="1982" y="2942.4">敬礼!</text></g>
<g id="n6d3" class="n"><rect x="1975" y="2977.7" width="84" height="27.6"/><text x="1982" y="2996.1">申请人：XXX</text></g>
<g id="n6d4" class="n"><rect x="1975" y="3031.7" width="166" height="27.6"/><text x="1982" y="3050.1">申请时间：&#160;XXX年 X月 XX日</text></g>

<g id="watermarks">
<text x="655" y="500" transform="rotate(-25 655 466)">树图 shutu.cn</text>
<text x="1925" y="540" transform="rotate(-25 1925 506)">树图 shutu.cn</text>
<text x="651" y="1502" transform="rotate(-25 651 1468)">树图 shutu.cn</text>
<text x="1925" y="1522" transform="rotate(-25 1925 1488)">树图 shutu.cn</text>
<text x="651" y="2534" transform="rotate(-25 651 2500)">树图 shutu.cn</text>
<text x="1925" y="2534" transform="rotate(-25 1925 2500)">树图 shutu.cn</text>
</g>
</svg>
